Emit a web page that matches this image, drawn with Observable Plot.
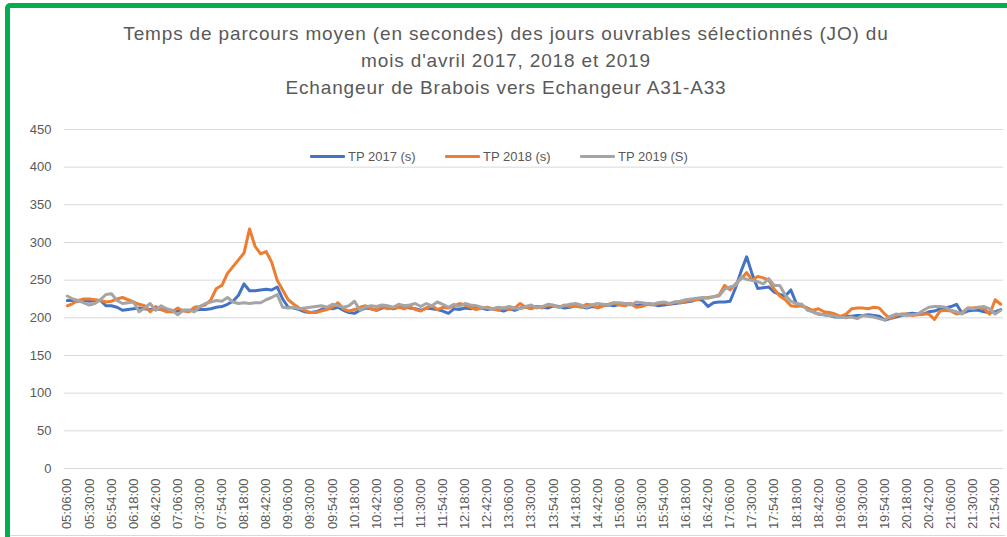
<!DOCTYPE html>
<html><head><meta charset="utf-8">
<script src="https://cdn.jsdelivr.net/npm/d3@7"></script>
<script src="https://cdn.jsdelivr.net/npm/@observablehq/plot@0.6"></script>
<style>
body{margin:0;background:#fff;font-family:"Liberation Sans",Arial,sans-serif;}
#wrap{position:relative;width:1007px;height:537px;overflow:hidden;background:#fff;}
#frame{position:absolute;left:5px;top:3px;width:1020px;height:620px;border:5px solid #00B050;border-radius:5px;box-sizing:border-box;}
#bottomline{position:absolute;left:10px;top:535px;width:995px;height:1px;background:#d9d9d9;}
#title{position:absolute;top:20px;left:0;width:1012px;text-align:center;color:#595959;font-size:19px;letter-spacing:0.85px;line-height:27px;}
#chart{position:absolute;top:110px;left:0;}
.leg{position:absolute;top:148px;height:16px;display:flex;align-items:center;color:#595959;font-size:13px;white-space:nowrap;}
.leg span.sw{display:inline-block;width:35px;height:3px;margin-right:3px;border-radius:1px;}
</style>
</head><body>
<div id="wrap">
  <div id="frame"></div>
  <div id="bottomline"></div>
  <div id="title">Temps de parcours moyen (en secondes) des jours ouvrables sélectionnés (JO) du<br>mois d'avril 2017, 2018 et 2019<br>Echangeur de Brabois vers Echangeur A31-A33</div>
  <div id="chart"></div>
  <div id="legend"></div>
</div>
<script>
const seriesNames = ["TP 2017 (s)", "TP 2018 (s)", "TP 2019 (S)"];
const seriesColors = ["#4472C4", "#ED7D31", "#A5A5A5"];
const yTicks = [0, 50, 100, 150, 200, 250, 300, 350, 400, 450];

const tp2017 = [
  223,223,222,223,222,223,223,216,216,214,
  210,211,212,213,212,211,212,211,210,208,
  209,210,210,210,211,211,212,214,215,218,
  222,230,245,236,236,237,238,237,241,225,
  214,213,211,208,207,208,211,213,212,214,
  210,207,206,210,213,212,210,213,214,212,
  214,216,213,212,210,213,212,211,209,206,
  212,211,213,212,214,213,211,212,211,209,
  212,210,213,214,213,215,214,213,216,215,
  213,214,216,215,213,215,214,216,217,216,
  218,219,218,216,217,219,218,216,217,218,
  219,220,221,222,225,223,215,220,221,221,
  222,240,262,281,258,239,240,241,234,231,
  229,237,219,216,213,208,205,204,203,201,
  201,202,202,203,203,204,203,202,197,199,
  201,203,205,206,205,205,208,209,212,213,
  215,218,206,209,210,210,208,207,208,211
];
const tp2018 = [
  216,219,223,225,225,224,223,221,222,225,
  227,224,221,218,216,208,215,211,208,208,
  213,209,208,214,215,217,224,239,243,259,
  268,277,286,318,295,285,288,274,250,237,
  224,218,213,210,207,207,209,211,214,220,
  212,209,211,214,216,212,210,215,212,213,
  214,212,215,211,209,213,216,211,214,213,
  216,219,217,214,211,213,214,212,210,213,
  211,213,219,214,212,215,213,217,216,214,
  217,215,216,214,218,217,213,216,218,220,
  217,216,219,214,215,218,217,219,220,218,
  221,220,222,223,224,226,227,228,230,243,
  237,245,252,260,250,255,253,250,238,229,
  224,216,215,216,213,210,212,208,207,205,
  202,205,212,213,213,212,214,213,205,199,
  203,205,205,203,204,205,205,198,209,210,
  209,205,207,213,213,214,212,205,224,218
];
const tp2019 = [
  229,225,223,220,217,219,224,231,232,223,
  219,220,221,208,213,219,210,216,212,210,
  204,210,210,208,215,219,221,223,222,227,
  221,219,220,219,220,220,224,227,231,214,
  213,214,212,213,214,215,216,214,218,216,
  214,216,222,210,214,216,215,217,216,214,
  218,216,217,219,215,219,216,221,218,214,
  218,215,219,217,216,214,213,212,214,213,
  215,213,212,215,217,213,215,218,217,214,
  216,218,219,217,214,217,219,218,217,220,
  220,219,217,221,220,219,218,220,221,219,
  221,222,224,225,226,227,226,228,229,238,
  241,243,254,251,250,248,245,252,243,243,
  230,222,219,218,210,208,205,204,203,202,
  201,200,201,199,203,202,201,199,197,202,
  205,204,203,204,205,210,214,215,215,214,
  210,208,205,213,212,214,215,212,205,210
];

// categories: 6-minute steps starting 05:06:00
const times = d3.range(tp2017.length).map(i => {
  const m = 5 * 60 + 6 + 6 * i;
  return String(Math.floor(m / 60)).padStart(2, "0") + ":" + String(m % 60).padStart(2, "0") + ":00";
});
const tickLabels = times.filter((t, i) => i % 4 === 0);

const allSeries = [tp2017, tp2018, tp2019];
const data = [];
allSeries.forEach((vals, s) => vals.forEach((v, i) => data.push({t: times[i], v, s: seriesNames[s]})));

const chart = Plot.plot({
  width: 1007, height: 427,
  marginLeft: 64, marginRight: 4, marginTop: 19, marginBottom: 69,
  style: {fontFamily: "'Liberation Sans', Arial, sans-serif", fontSize: "13px", color: "#595959", background: "transparent"},
  x: {type: "point", domain: times, padding: 0.5},
  y: {domain: [0, 450]},
  color: {domain: seriesNames, range: seriesColors},
  marks: [
    Plot.ruleY(yTicks, {stroke: "#d9d9d9", strokeWidth: 1}),
    Plot.axisY({ticks: yTicks, tickSize: 0, tickPadding: 13, label: null, fill: "#595959"}),
    Plot.axisX({ticks: tickLabels, tickRotate: -90, tickSize: 0, tickPadding: 10, label: null, fill: "#595959"}),
    Plot.line(data, {x: "t", y: "v", z: "s", stroke: "s", strokeWidth: 3, strokeLinejoin: "round", strokeLinecap: "round"})
  ]
});
document.getElementById("chart").appendChild(chart);

const legPos = [310, 445, 580];
const legend = document.getElementById("legend");
seriesNames.forEach((n, i) => {
  const d = document.createElement("div");
  d.className = "leg";
  d.style.left = legPos[i] + "px";
  d.innerHTML = `<span class="sw" style="background:${seriesColors[i]}"></span>${n}`;
  legend.appendChild(d);
});
</script>
</body></html>
